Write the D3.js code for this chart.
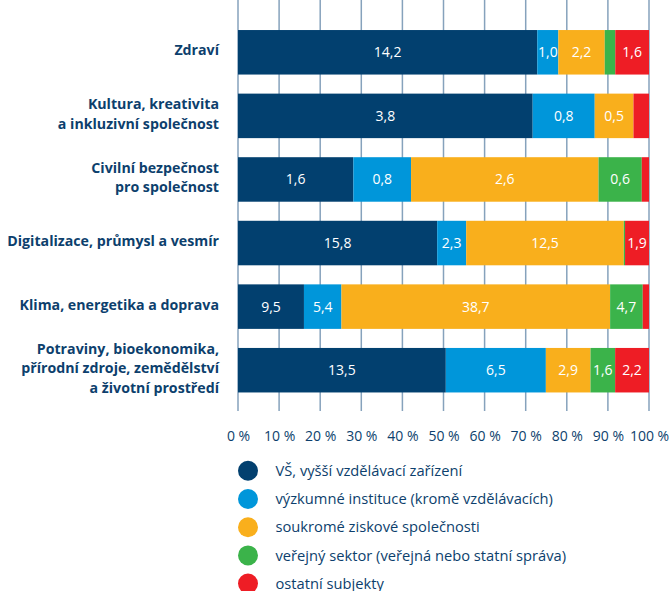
<!DOCTYPE html>
<html lang="cs">
<head>
<meta charset="utf-8">
<script src="https://cdn.jsdelivr.net/npm/d3@7"></script>
<style>
  html, body { margin: 0; padding: 0; background: #fff; }
  svg { display: block; font-family: "Open Sans", "Noto Sans", sans-serif; }
</style>
</head>
<body>
<svg id="chart" width="671" height="591"></svg>
<script>
// Oblasti (kategorie) – víceřádkové popisky odděleny "\n"
const categories = [
  "Zdraví",
  "Kultura, kreativita\na inkluzivní společnost",
  "Civilní bezpečnost\npro společnost",
  "Digitalizace, průmysl a vesmír",
  "Klima, energetika a doprava",
  "Potraviny, bioekonomika,\npřírodní zdroje, zemědělství\na životní prostředí"
];

// Hodnoty podle typu subjektu (stejné pořadí jako categories)
const vsValues        = [14.2, 3.8, 1.6, 15.8, 9.5, 13.5];
const vyzkumValues    = [1.0, 0.8, 0.8, 2.3, 5.4, 6.5];
const soukromeValues  = [2.2, 0.5, 2.6, 12.5, 38.7, 2.9];
const verejnyValues   = [0.5, 0.0, 0.6, 0.1, 4.7, 1.6];
const ostatniValues   = [1.6, 0.2, 0.1, 1.9, 0.9, 2.2];

const seriesNames = [
  "VŠ, vyšší vzdělávací zařízení",
  "výzkumné instituce (kromě vzdělávacích)",
  "soukromé ziskové společnosti",
  "veřejný sektor (veřejná nebo statní správa)",
  "ostatní subjekty"
];
const seriesColors = ["#02406f", "#0096da", "#f9af1c", "#3bb34a", "#ee1d25"];

const tickValues = [0, 0.1, 0.2, 0.3, 0.4, 0.5, 0.6, 0.7, 0.8, 0.9, 1.0];
const tickLabels = ["0 %", "10 %", "20 %", "30 %", "40 %", "50 %", "60 %", "70 %", "80 %", "90 %", "100 %"];

const seriesValues = [vsValues, vyzkumValues, soukromeValues, verejnyValues, ostatniValues];
const keys = seriesNames.map((_, i) => "s" + i);

// Tabulka pro d3.stack s podíly na celku v každé oblasti
const table = categories.map((c, ci) => {
  const total = d3.sum(seriesValues, s => s[ci]);
  const row = { category: c, total };
  keys.forEach((k, si) => { row[k] = seriesValues[si][ci] / total; row[k + "_raw"] = seriesValues[si][ci]; });
  return row;
});

const stacked = d3.stack().keys(keys)(table);

const svg = d3.select("#chart");
const textColor = "#0d3f6d";

const x = d3.scaleLinear().domain([0, 1]).range([238, 649]);
const y = d3.scaleBand().domain(categories).range([20.5, 402]).paddingInner(0.3).paddingOuter(0.15);

// Svislé mřížky
const gridG = svg.append("g").attr("class", "grid");
gridG.selectAll("line").data(tickValues).join("line")
  .attr("x1", d => x(d)).attr("x2", d => x(d))
  .attr("y1", 0).attr("y2", 411)
  .attr("stroke", "#86a2bc").attr("stroke-width", 1.5);

// Osa x – popisky procent
const xAxis = d3.axisBottom(x).tickValues(tickValues)
  .tickFormat((d, i) => tickLabels[i]).tickSize(0).tickPadding(0);
const axG = svg.append("g").attr("transform", "translate(0,436)").call(xAxis);
axG.select(".domain").remove();
axG.selectAll("text")
  .attr("fill", textColor).attr("font-size", 14).attr("font-family", "'Open Sans', sans-serif")
  .attr("y", 0).attr("dy", "0.35em");

// Skládané pruhy
const layers = svg.append("g").selectAll("g").data(stacked).join("g")
  .attr("fill", (d, i) => seriesColors[i]);

layers.selectAll("rect").data(d => d.map(v => ({ v, key: d.key }))).join("rect")
  .attr("x", d => x(d.v[0]))
  .attr("width", d => Math.max(0, x(d.v[1]) - x(d.v[0])))
  .attr("y", d => y(d.v.data.category))
  .attr("height", y.bandwidth());

// Hodnoty v segmentech (jen tam, kde se vejdou)
const fmt = v => d3.format(".1f")(v).replace(".", ",");
layers.selectAll("text").data(d => d.map(v => ({ v, key: d.key }))).join("text")
  .filter(d => d.v[1] - d.v[0] >= 0.05)
  .attr("x", d => (x(d.v[0]) + x(d.v[1])) / 2)
  .attr("y", d => y(d.v.data.category) + y.bandwidth() / 2)
  .attr("dy", "0.35em")
  .attr("text-anchor", "middle")
  .attr("fill", "#fff")
  .attr("font-size", 14)
  .text(d => fmt(d.v.data[d.key + "_raw"]));

// Popisky kategorií vlevo
const lineH = 19.5;
const catG = svg.append("g");
categories.forEach(c => {
  const lines = c.split("\n");
  const cy = y(c) + y.bandwidth() / 2;
  const t = catG.append("text")
    .attr("text-anchor", "end")
    .attr("fill", textColor)
    .attr("font-size", 14.2)
    .attr("font-weight", "bold");
  lines.forEach((ln, i) => {
    t.append("tspan")
      .attr("x", 219)
      .attr("y", cy - 2 + (i - (lines.length - 1) / 2) * lineH)
      .attr("dy", "0.35em")
      .text(ln);
  });
});

// Legenda
const legend = svg.append("g").selectAll("g").data(seriesNames).join("g")
  .attr("transform", (d, i) => `translate(248,${470.8 + i * 28.2})`);
legend.append("circle").attr("r", 10).attr("fill", (d, i) => seriesColors[i]);
legend.append("text")
  .attr("x", 27.5).attr("dy", "0.35em")
  .attr("fill", textColor).attr("font-size", 14.7)
  .text(d => d);
</script>
</body>
</html>
